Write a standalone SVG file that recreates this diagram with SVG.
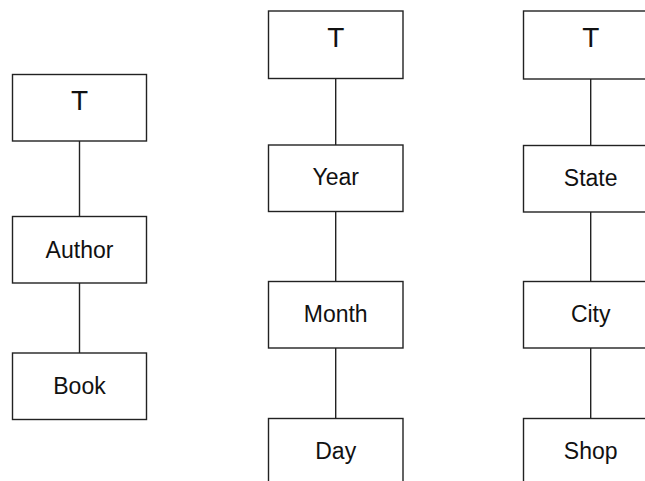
<svg xmlns="http://www.w3.org/2000/svg" width="645" height="481" viewBox="0 0 645 481">
<style>
rect{fill:#fff;stroke:#222;stroke-width:1.4}
.c line{stroke:#222;stroke-width:1.4}
text{font-family:"Liberation Sans",Arial,sans-serif;font-size:23px;fill:#111;text-anchor:middle}
text.t{font-size:28px}
</style>
<rect x="0" y="0" width="645" height="481" style="fill:#fff;stroke:none"/>
<g class="c" id="connectors">
<line x1="79.5" y1="141" x2="79.5" y2="216.5"/>
<line x1="79.5" y1="283" x2="79.5" y2="353"/>
<line x1="335.7" y1="78.5" x2="335.7" y2="145"/>
<line x1="335.7" y1="211.5" x2="335.7" y2="281.5"/>
<line x1="335.7" y1="348" x2="335.7" y2="418.5"/>
<line x1="590.7" y1="79" x2="590.7" y2="145.5"/>
<line x1="590.7" y1="212" x2="590.7" y2="281.5"/>
<line x1="590.7" y1="348" x2="590.7" y2="418.5"/>
</g>
<g id="t1"><rect x="12.5" y="74.5" width="134" height="66.5"/><text class="t" x="79.5" y="110">T</text></g>
<g id="author"><rect x="12.5" y="216.5" width="134" height="66.5"/><text x="79.5" y="257.5">Author</text></g>
<g id="book"><rect x="12.5" y="353" width="134" height="66.5"/><text x="79.5" y="394">Book</text></g>
<g id="t2"><rect x="268.5" y="11" width="134.5" height="67.5"/><text class="t" x="335.7" y="46.5">T</text></g>
<g id="year"><rect x="268.5" y="145" width="134.5" height="66.5"/><text x="335.7" y="185">Year</text></g>
<g id="month"><rect x="268.5" y="281.5" width="134.5" height="66.5"/><text x="335.7" y="322">Month</text></g>
<g id="day"><rect x="268.5" y="418.5" width="134.5" height="66.5"/><text x="335.7" y="459">Day</text></g>
<g id="t3"><rect x="523.5" y="11" width="134.5" height="68"/><text class="t" x="590.7" y="46.5">T</text></g>
<g id="state"><rect x="523.5" y="145.5" width="134.5" height="66.5"/><text x="590.7" y="185.5">State</text></g>
<g id="city"><rect x="523.5" y="281.5" width="134.5" height="66.5"/><text x="590.7" y="322">City</text></g>
<g id="shop"><rect x="523.5" y="418.5" width="134.5" height="66.5"/><text x="590.7" y="458.5">Shop</text></g>
</svg>
